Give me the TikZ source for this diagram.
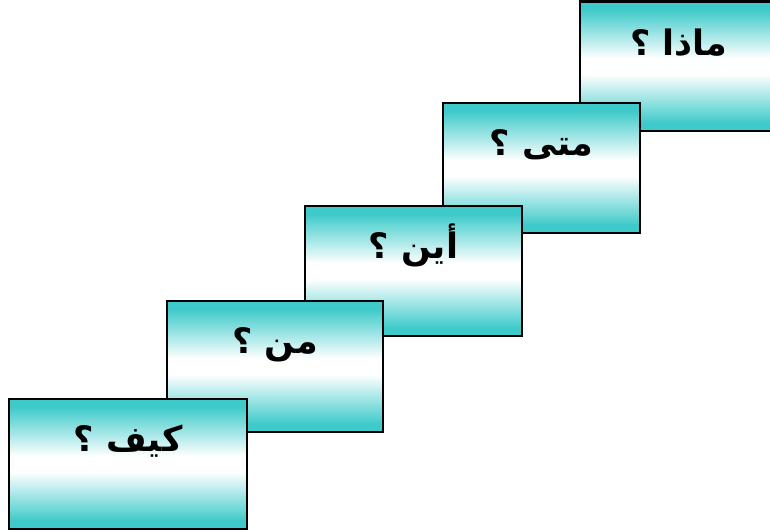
\documentclass[tikz,border=0pt]{standalone}
\usepackage{fontspec}
\TeXXeTstate=1
\newfontfamily\arabicfont[Script=Arabic]{DejaVu Sans}
\definecolor{tealbox}{RGB}{62,202,202}
\pgfdeclareverticalshading{stairshade}{100bp}{color(0bp)=(tealbox); color(25bp)=(tealbox); color(28bp)=(tealbox); color(47bp)=(white); color(53bp)=(white); color(72bp)=(tealbox); color(75bp)=(tealbox); color(100bp)=(tealbox)}
\tikzset{
  stairbox/.style={draw=black, line width=2.4pt, rectangle, inner sep=0pt,
    shading=stairshade},
  stairtext/.style={anchor=base, inner sep=0pt, font=\arabicfont\bfseries\fontsize{35}{42}\selectfont}
}
\begin{document}
\begin{tikzpicture}[x=1pt,y=-1pt]
\clip (0,0) rectangle (770,532);
\fill[white] (0,0) rectangle (770,532);
% boxes drawn from top-right to bottom-left
\node[stairbox, minimum width=220pt, minimum height=129.5pt] (b5) at (690,66.25) {};
\node[stairbox, minimum width=197pt, minimum height=130pt] (b4) at (541.5,168) {};
\node[stairbox, minimum width=217pt, minimum height=130pt] (b3) at (413.5,271) {};
\node[stairbox, minimum width=216pt, minimum height=131pt] (b2) at (275,366.5) {};
\node[stairbox, minimum width=238pt, minimum height=130pt] (b1) at (128,464) {};
% labels
\node[stairtext] (t5) at (679,55.5) {\beginR ماذا ؟\endR};
\node[stairtext] (t4) at ([yshift=-54pt]b4.north) {\beginR متى ؟\endR};
\node[stairtext] (t3) at ([yshift=-54pt]b3.north) {\beginR أين ؟\endR};
\node[stairtext] (t2) at ([yshift=-54pt]b2.north) {\beginR من ؟\endR};
\node[stairtext] (t1) at ([yshift=-54pt]b1.north) {\beginR كيف ؟\endR};
\end{tikzpicture}
\end{document}
